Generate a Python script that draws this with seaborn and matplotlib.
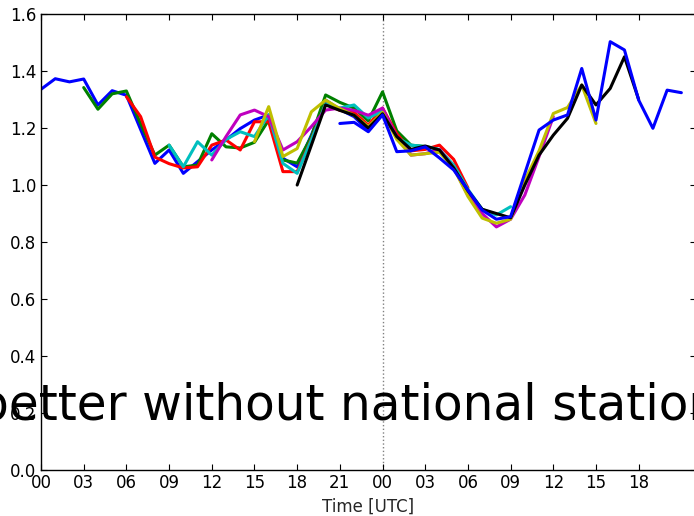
import numpy as np
import pandas as pd
import matplotlib
matplotlib.use("Agg")
import matplotlib.pyplot as plt
import seaborn as sns

# forecast runs: start hour and hourly values (24 h forecasts)
run_starts = [0, 3, 6, 9, 12, 15, 18, 21]
run_names = ["run00", "run03", "run06", "run09", "run12", "run15", "run18", "run21"]
run_colors = ["#0000ff", "#008000", "#ff0000", "#00bfbf", "#bf00bf", "#bfbf00", "#000000", "#0000ff"]

blue00 = [1.336, 1.373, 1.362, 1.372, 1.281, 1.331, 1.315, 1.195, 1.076, 1.123, 1.041, 1.082, 1.123,
          1.158, 1.198, 1.228, 1.246, 1.094, 1.064, 1.175, 1.298, 1.265, 1.240, 1.190, 1.250]
green03 = [1.342, 1.266, 1.320, 1.330, 1.215, 1.105, 1.140, 1.064, 1.070, 1.180, 1.134, 1.130, 1.150,
           1.228, 1.088, 1.077, 1.170, 1.316, 1.290, 1.270, 1.225, 1.327, 1.190, 1.140, 1.135]
red06 = [1.310, 1.240, 1.098, 1.075, 1.060, 1.064, 1.140, 1.158, 1.123, 1.222, 1.222, 1.047, 1.047,
         1.160, 1.285, 1.262, 1.255, 1.210, 1.270, 1.180, 1.120, 1.125, 1.140, 1.090, 0.990]
cyan09 = [1.140, 1.064, 1.152, 1.105, 1.160, 1.187, 1.170, 1.246, 1.076, 1.041, 1.158, 1.285, 1.270,
          1.281, 1.235, 1.260, 1.165, 1.140, 1.135, 1.125, 1.070, 0.985, 0.915, 0.895, 0.924]
magenta12 = [1.088, 1.170, 1.246, 1.263, 1.240, 1.123, 1.152, 1.205, 1.263, 1.270, 1.262, 1.245, 1.270,
             1.170, 1.105, 1.110, 1.125, 1.060, 0.965, 0.900, 0.853, 0.880, 0.965, 1.100, 1.240]
yellow15 = [1.152, 1.275, 1.100, 1.128, 1.257, 1.298, 1.268, 1.245, 1.205, 1.255, 1.160, 1.105, 1.110,
            1.115, 1.060, 0.960, 0.884, 0.866, 0.880, 1.017, 1.120, 1.251, 1.272, 1.351, 1.216]
black18 = [1.000, 1.140, 1.281, 1.262, 1.245, 1.200, 1.250, 1.170, 1.125, 1.137, 1.123, 1.060, 0.980,
           0.915, 0.900, 0.885, 1.000, 1.105, 1.175, 1.234, 1.351, 1.281, 1.339, 1.450, 1.300]
blue21 = [1.216, 1.220, 1.187, 1.246, 1.117, 1.120, 1.134, 1.095, 1.053, 0.982, 0.912, 0.880, 0.889,
          1.041, 1.193, 1.228, 1.246, 1.409, 1.228, 1.503, 1.474, 1.298, 1.199, 1.333, 1.324]

run_values = [blue00, green03, red06, cyan09, magenta12, yellow15, black18, blue21]

xtick_hours = list(range(0, 43, 3))
xtick_labels = ["%02d" % (h % 24) for h in xtick_hours]
ytick_values = [0.0, 0.2, 0.4, 0.6, 0.8, 1.0, 1.2, 1.4, 1.6]
annotation = "better without national stations"

rows = []
for name, start, vals in zip(run_names, run_starts, run_values):
    for i, v in enumerate(vals):
        rows.append({"run": name, "hour": start + i, "value": v})
df = pd.DataFrame(rows)

sns.set_style("ticks")
plt.rcParams.update({
    "font.family": ["DejaVu Sans"],
    "font.size": 12,
    "xtick.direction": "in",
    "ytick.direction": "in",
    "xtick.top": True,
    "ytick.right": True,
    "xtick.major.size": 4,
    "ytick.major.size": 4,
    "axes.edgecolor": "black",
    "axes.linewidth": 1.0,
    "xtick.color": "black",
    "ytick.color": "black",
    "xtick.labelsize": 12,
    "ytick.labelsize": 12,
})

fig = plt.figure(figsize=(6.94, 5.16), dpi=100)
ax = fig.add_axes([0.0591, 0.0891, 0.9432, 0.8837])

sns.lineplot(data=df, x="hour", y="value", hue="run", hue_order=run_names,
             palette=run_colors, linewidth=2.2, legend=False, ax=ax, sort=True)

ax.axvline(24, color="gray", linestyle=":", linewidth=1.0, zorder=0)

ax.set_xlim(0, 46)
ax.set_ylim(0, 1.6)
ax.set_xticks(xtick_hours)
ax.set_xticklabels(xtick_labels)
ax.set_yticks(ytick_values)
ax.set_yticklabels(["%.1f" % v for v in ytick_values])
ax.set_xlabel("Time [UTC]", fontsize=12)
ax.set_ylabel("")
ax.tick_params(axis="x", pad=3)

fig.text(-22 / 694, (516 - 419) / 516, annotation, fontsize=35, ha="left", va="baseline",
         color="black")

fig.savefig("out.png", dpi=100)
